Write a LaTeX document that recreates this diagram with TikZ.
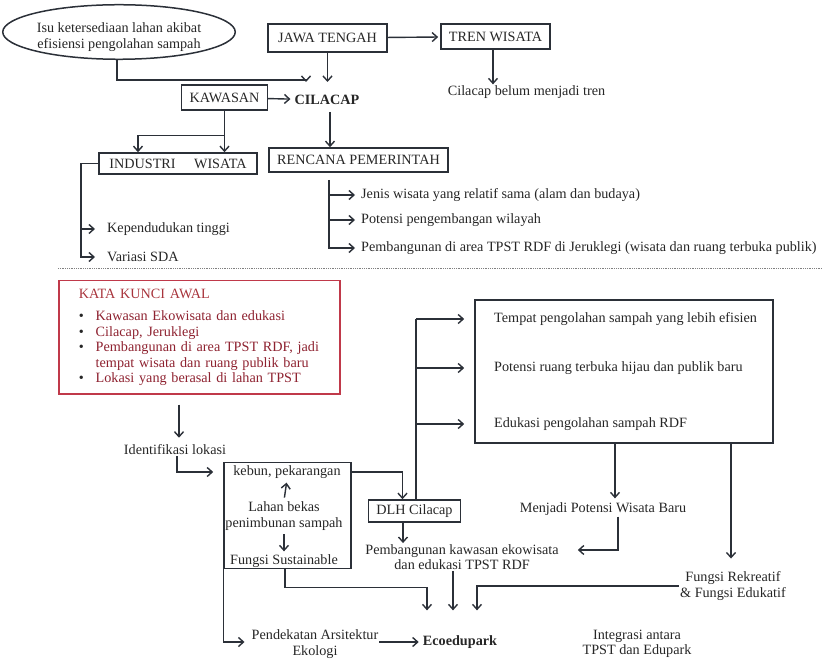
\documentclass[tikz,border=0pt]{standalone}
\usepackage{fontspec}
\setmainfont{Liberation Serif}
\usetikzlibrary{arrows.meta,shapes.geometric}
\definecolor{lincol}{HTML}{2B3038}
\definecolor{kkred}{HTML}{C0394A}
\definecolor{kktitle}{HTML}{A8343C}
\definecolor{kktext}{HTML}{8E2230}

\begin{document}
\begin{tikzpicture}[
  x=1pt, y=-1pt,
  every node/.style={font=\fontsize{14.2}{15.5}\selectfont, inner sep=1pt, text=black!85},
  box/.style={draw=lincol, line width=1.6pt, minimum height=25pt, inner xsep=8pt},
  arr/.style={->, draw=lincol, line width=1.4pt},
  line/.style={draw=lincol, line width=1.4pt},
  >={Straight Barb[length=5pt,width=9pt]}
]
\useasboundingbox (0,0) rectangle (822,660);

% bagian atas
\node[ellipse, draw=lincol, line width=1.5pt, minimum width=223pt, minimum height=36pt,
  inner sep=0pt, align=center] (isu) at (119,32) {\rule{0pt}{20pt}Isu ketersediaan lahan akibat\\efisiensi pengolahan sampah};
\node[box, minimum width=119pt, minimum height=28pt] (jawa) at (327.5,38) {JAWA TENGAH};
\node[box, minimum width=105pt] (tren) at (495.5,36.5) {TREN WISATA};
\node (trenket) at (526.5,92) {Cilacap belum menjadi tren};
\node[box, minimum width=85pt] (kaw) at (224.5,97.5) {KAWASAN};
\node[font=\fontsize{14.2}{15.5}\selectfont\bfseries] (cil) at (327,100) {CILACAP};
\node[box, minimum width=158pt, minimum height=21pt] (indw) at (178,163.5) {INDUSTRI\hspace{1.3em}WISATA};
\node[box, minimum width=159pt, minimum height=24pt] (renc) at (358.5,160) {RENCANA PEMERINTAH};
\node[anchor=west] (jenis) at (360,195) {Jenis wisata yang relatif sama (alam dan budaya)};
\node[anchor=west] (pot) at (360,220) {Potensi pengembangan wilayah};
\node[anchor=west] (pemb) at (360,248) {Pembangunan di area TPST RDF di Jeruklegi (wisata dan ruang terbuka publik)};
\node[anchor=west] (kep) at (106,229) {Kependudukan tinggi};
\node[anchor=west] (var) at (106,257) {Variasi SDA};

\coordinate (isuend) at (306,82);
\draw[arr] ([xshift=-2pt]isu.south) -- ++(0,20) -| (isuend);
\draw[arr] (jawa.south) -- (jawa.south |- isuend);
\draw[arr, shorten >=2pt] (jawa) -- (tren);
\draw[arr] ([xshift=-2.5pt]tren.south) -- ([xshift=-2.5pt]tren.south |- trenket.north);
\draw[arr, shorten >=3pt] (kaw) -- (cil);
\draw[arr] ([xshift=3pt,yshift=-6pt]cil.south) -- ([xshift=3pt]cil.south |- renc.north);
\draw[arr] (kaw.south) -- (kaw.south |- indw.north);
\draw[arr] ([yshift=-25pt]kaw.south) -| ([xshift=-40pt]indw.north);
\draw[arr] (indw.west) -| ([xshift=-25pt]var.west) -- ([xshift=-11pt]var.west);
\draw[arr] ([xshift=-25pt]kep.west) -- ([xshift=-11pt]kep.west);
\coordinate (rs) at ([xshift=-29.5pt,yshift=-7pt]renc.south);
\draw[arr] (rs) |- ([xshift=-5pt]pemb.west);
\draw[arr] (rs |- jenis) -- ([xshift=-5pt]jenis.west);
\draw[arr] (rs |- pot) -- ([xshift=-5pt]pot.west);

\draw[densely dotted, gray, line width=0.8pt] (58,268) -- (822,268);

% bagian bawah
\node[draw=kkred, line width=1.5pt, anchor=north west, minimum width=281pt, minimum height=113pt,
  inner xsep=20pt, inner ysep=5pt, text width=241pt] (kata) at (58,280) {%
  \begin{tabular}{@{}l@{\hspace{12pt}}l@{}}
  \multicolumn{2}{@{}l}{\color{kktitle}KATA KUNCI AWAL}\\[7pt]
  \textbullet & \color{kktext}Kawasan Ekowisata dan edukasi\\
  \textbullet & \color{kktext}Cilacap, Jeruklegi\\
  \textbullet & \color{kktext}Pembangunan di area TPST RDF, jadi\\
              & \color{kktext}tempat wisata dan ruang publik baru\\
  \textbullet & \color{kktext}Lokasi yang berasal di lahan TPST
  \end{tabular}};
\node (idlok) at (175,450) {Identifikasi lokasi};
\node[box, minimum width=127pt, minimum height=106pt] (lbox) at (287.5,515.5) {};
\node (keb) at (287,472) {kebun, pekarangan};
\node[align=center] (lah) at (284,516) {Lahan bekas\\penimbunan sampah};
\node (fs) at (284,561) {Fungsi Sustainable};
\node[box, minimum width=85pt, minimum height=22pt] (dlh) at (414.5,511) {DLH Cilacap};
\node[box, minimum width=298pt, minimum height=143pt] (rbox) at (624,371.5) {};
\node[anchor=west] (t1) at (493,319) {Tempat pengolahan sampah yang lebih efisien};
\node[anchor=west] (t2) at (493,368) {Potensi ruang terbuka hijau dan publik baru};
\node[anchor=west] (t3) at (493,424) {Edukasi pengolahan sampah RDF};
\node (mpot) at (603,509) {Menjadi Potensi Wisata Baru};
\node[align=center] (pkaw) at (462,557) {Pembangunan kawasan ekowisata\\dan edukasi TPST RDF};
\node[align=center] (frek) at (733,586) {Fungsi Rekreatif\\\& Fungsi Edukatif};
\node[align=center] (pend) at (315,644) {Pendekatan Arsitektur\\Ekologi};
\node[font=\fontsize{14.2}{15.5}\selectfont\bfseries] (eco) at (460,642) {Ecoedupark};
\node[align=center] (integ) at (637,644) {Integrasi antara\\TPST dan Edupark};

\draw[arr, shorten <=10pt, shorten >=6pt] ([xshift=4pt]idlok.north |- kata.south) -- ([xshift=4pt]idlok.north);
\draw[arr] ([xshift=2pt]idlok.south) |- ([xshift=-10pt]lbox.west |- keb);
\draw[arr, shorten <=3pt, shorten >=3pt] (lah.north) -- (keb.south);
\draw[arr, shorten <=3pt, shorten >=2pt] (lah.south) -- (fs.north);
\draw[arr] (lbox.east |- keb) -| ([xshift=-12pt]dlh.north);
\coordinate (sp) at ([xshift=1.5pt]dlh.north);
\draw[line] (sp) -- (sp |- t1);
\foreach \t in {t1,t2,t3}
  \draw[arr] (sp |- \t) -- ([xshift=-10pt]rbox.west |- \t);
\draw[arr, shorten >=3pt] ([xshift=-9pt]rbox.south) -- ([xshift=-9pt]rbox.south |- mpot.north);
\draw[arr] ([xshift=-11.5pt]dlh.south) -- ([xshift=-11.5pt]dlh.south |- pkaw.north);
\draw[arr] ([xshift=15pt]mpot.south) |- ([xshift=18pt,yshift=7pt]pkaw.east);
\draw[arr, shorten >=12pt] ([xshift=107pt]rbox.south) -- ([xshift=107pt]rbox.south |- frek.north);
\draw[arr, shorten >=24pt] ([xshift=-2.5pt]lbox.south) -- ++(0,18) -| ([xshift=-33pt]eco.north);
\draw[arr, shorten >=24pt] ([xshift=-9pt]pkaw.south) -- ([xshift=-9pt]pkaw.south |- eco.north);
\draw[arr, shorten >=24pt] (frek.west) -| ([xshift=17pt]eco.north);
\draw[arr] (lbox.south west) |- ([xshift=-6pt,yshift=2pt]pend.west);
\draw[arr, shorten >=3pt] ([yshift=2pt]pend.east) -- ([yshift=2pt]pend.east -| eco.west);
\end{tikzpicture}
\end{document}
